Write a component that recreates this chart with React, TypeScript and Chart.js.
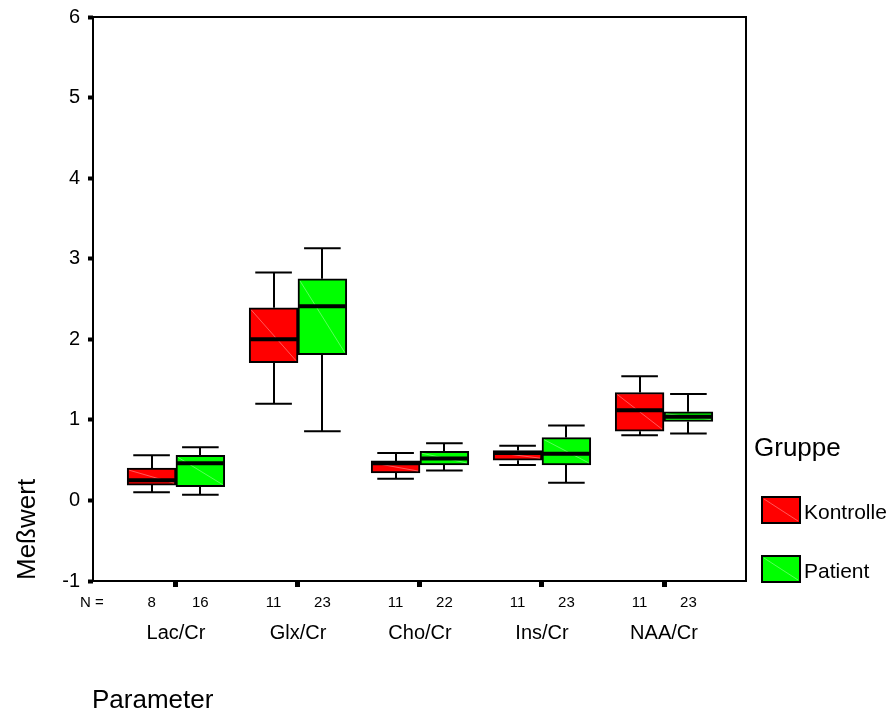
import React, { useEffect, useRef } from "react";
import { Chart, registerables } from "chart.js";

Chart.register(...registerables);

// ---- Data ----
const categories = ["Lac/Cr", "Glx/Cr", "Cho/Cr", "Ins/Cr", "NAA/Cr"];
const groupNames = ["Kontrolle", "Patient"];

const kontrolleMin = [0.10, 1.20, 0.27, 0.44, 0.81];
const kontrolleQ1 = [0.19, 1.71, 0.34, 0.50, 0.86];
const kontrolleMedian = [0.25, 2.00, 0.46, 0.59, 1.12];
const kontrolleQ3 = [0.40, 2.39, 0.49, 0.62, 1.34];
const kontrolleMax = [0.56, 2.83, 0.59, 0.68, 1.54];

const patientMin = [0.07, 0.86, 0.37, 0.22, 0.83];
const patientQ1 = [0.17, 1.81, 0.44, 0.44, 0.98];
const patientMedian = [0.46, 2.41, 0.52, 0.58, 1.04];
const patientQ3 = [0.56, 2.75, 0.61, 0.78, 1.10];
const patientMax = [0.66, 3.13, 0.71, 0.93, 1.32];

const nKontrolle = [8, 11, 11, 11, 11];
const nPatient = [16, 23, 22, 23, 23];

const yTicks = [-1, 0, 1, 2, 3, 4, 5, 6];

// ---- Styling / layout constants ----
const FONT = '"Liberation Sans", Arial, sans-serif';
const RED = "#ff0000";
const GREEN = "#00ff00";
const GROUP_OFFSET = 0.2; // box centre offset from category tick
const BOX_HALF = 0.2;
const CAP_HALF = 0.15;

const groups = [
  { name: groupNames[0], color: RED, off: -GROUP_OFFSET, min: kontrolleMin, q1: kontrolleQ1, med: kontrolleMedian, q3: kontrolleQ3, max: kontrolleMax, n: nKontrolle },
  { name: groupNames[1], color: GREEN, off: GROUP_OFFSET, min: patientMin, q1: patientQ1, med: patientMedian, q3: patientQ3, max: patientMax, n: nPatient },
];

const boxPlugin = {
  id: "boxExtras",
  beforeDatasetsDraw(chart: any) {
    const { ctx, scales } = chart;
    const x = scales.x, y = scales.y;
    ctx.save();
    ctx.strokeStyle = "#000";
    ctx.lineWidth = 2;
    groups.forEach((g) => {
      categories.forEach((_, i) => {
        const c = i + 1 + g.off;
        const xc = Math.round(x.getPixelForValue(c));
        const xl = x.getPixelForValue(c - CAP_HALF);
        const xr = x.getPixelForValue(c + CAP_HALF);
        const yMax = y.getPixelForValue(g.max[i]);
        const yMin = y.getPixelForValue(g.min[i]);
        const yQ1 = y.getPixelForValue(g.q1[i]);
        const yQ3 = y.getPixelForValue(g.q3[i]);
        ctx.beginPath();
        ctx.moveTo(xc, yQ3);
        ctx.lineTo(xc, yMax);
        ctx.moveTo(xl, yMax);
        ctx.lineTo(xr, yMax);
        ctx.moveTo(xc, yQ1);
        ctx.lineTo(xc, yMin);
        ctx.moveTo(xl, yMin);
        ctx.lineTo(xr, yMin);
        ctx.stroke();
      });
    });
    ctx.restore();
  },
  afterDatasetsDraw(chart: any) {
    const { ctx, scales } = chart;
    const x = scales.x, y = scales.y;
    ctx.save();
    groups.forEach((g) => {
      categories.forEach((_, i) => {
        const c = i + 1 + g.off;
        const xl = x.getPixelForValue(c - BOX_HALF);
        const xr = x.getPixelForValue(c + BOX_HALF);
        const yQ1 = y.getPixelForValue(g.q1[i]);
        const yQ3 = y.getPixelForValue(g.q3[i]);
        // faint diagonal
        ctx.strokeStyle = "rgba(255,255,255,0.35)";
        ctx.lineWidth = 1;
        ctx.beginPath();
        ctx.moveTo(xl + 2, yQ3 + 2);
        ctx.lineTo(xr - 2, yQ1 - 2);
        ctx.stroke();
        // median
        const yM = y.getPixelForValue(g.med[i]);
        ctx.strokeStyle = "#000";
        ctx.lineWidth = 4;
        ctx.beginPath();
        ctx.moveTo(xl + 1, yM);
        ctx.lineTo(xr - 1, yM);
        ctx.stroke();
      });
    });
    ctx.restore();
  },
  afterDraw(chart: any) {
    const { ctx, scales, chartArea } = chart;
    const x = scales.x;
    ctx.save();
    // frame
    ctx.strokeStyle = "#000";
    ctx.lineWidth = 2;
    ctx.strokeRect(chartArea.left, chartArea.top, chartArea.right - chartArea.left, chartArea.bottom - chartArea.top);

    ctx.fillStyle = "#000";
    // N counts
    ctx.font = `15px ${FONT}`;
    ctx.textAlign = "center";
    ctx.textBaseline = "alphabetic";
    ctx.fillText("N =", 92, 607);
    groups.forEach((g) => {
      categories.forEach((_, i) => {
        ctx.fillText(String(g.n[i]), x.getPixelForValue(i + 1 + g.off), 607);
      });
    });

    // axis titles
    ctx.textAlign = "left";
    ctx.font = `26px ${FONT}`;
    ctx.fillText("Parameter", 92, 708);
    ctx.save();
    ctx.translate(35, 580);
    ctx.rotate(-Math.PI / 2);
    ctx.fillText("Meßwert", 0, 0);
    ctx.restore();

    // legend
    ctx.fillText("Gruppe", 754, 456);
    const swatchTops = [497, 556];
    groups.forEach((g, k) => {
      const top = swatchTops[k];
      ctx.fillStyle = g.color;
      ctx.fillRect(762, top, 38, 26);
      ctx.strokeStyle = "rgba(255,255,255,0.35)";
      ctx.lineWidth = 1;
      ctx.beginPath();
      ctx.moveTo(764, top + 2);
      ctx.lineTo(798, top + 24);
      ctx.stroke();
      ctx.strokeStyle = "#000";
      ctx.lineWidth = 2;
      ctx.strokeRect(762, top, 38, 26);
      ctx.fillStyle = "#000";
      ctx.font = `21px ${FONT}`;
      ctx.fillText(g.name, 804, top + 22);
    });
    ctx.restore();
  },
};

export default function App() {
  const canvasRef = useRef<HTMLCanvasElement | null>(null);

  useEffect(() => {
    const canvas = canvasRef.current;
    if (!canvas) return;
    const datasets = groups.map((g) => ({
      label: g.name,
      data: categories.map((_, i) => ({ x: i + 1 + g.off, y: [g.q1[i], g.q3[i]] })),
      backgroundColor: g.color,
      borderColor: "#000",
      borderWidth: 2,
      borderSkipped: false,
      barPercentage: 1,
      categoryPercentage: 1,
      grouped: false,
    }));

    const chart = new Chart(canvas, {
      type: "bar",
      data: { datasets: datasets as any },
      plugins: [boxPlugin as any],
      options: {
        animation: false,
        responsive: false,
        devicePixelRatio: 1,
        layout: { padding: { top: 17, right: 147, left: 0, bottom: 0 } },
        plugins: { legend: { display: false }, tooltip: { enabled: false } },
        scales: {
          x: {
            type: "linear",
            min: 0.32,
            max: 5.672,
            offset: false,
            grid: { offset: false, drawOnChartArea: false, drawTicks: true, tickLength: 6, tickWidth: 5, color: "#000" },
            border: { display: false },
            afterBuildTicks: (scale: any) => {
              scale.ticks = categories.map((_, i) => ({ value: i + 1 }));
            },
            afterFit: (scale: any) => {
              scale.height = 712 - 581;
              scale.paddingLeft = 0;
              scale.paddingRight = 0;
            },
            ticks: {
              autoSkip: false,
              maxRotation: 0,
              minRotation: 0,
              padding: 34,
              color: "#000",
              font: { family: FONT, size: 20 },
              callback: (v: any) => categories[Math.round(Number(v)) - 1] ?? "",
            },
          },
          y: {
            type: "linear",
            min: -1,
            max: 6,
            grid: { drawOnChartArea: false, drawTicks: true, tickLength: 5, tickWidth: 4, color: "#000" },
            border: { display: false },
            afterBuildTicks: (scale: any) => {
              scale.ticks = yTicks.map((v) => ({ value: v }));
            },
            afterFit: (scale: any) => {
              scale.width = 93;
              scale.paddingTop = 0;
              scale.paddingBottom = 0;
            },
            ticks: {
              padding: 8,
              color: "#000",
              font: { family: FONT, size: 20 },
              callback: (v: any) => String(v),
            },
          },
        },
      } as any,
    });
    return () => chart.destroy();
  }, []);

  return (
    <div style={{ position: "absolute", left: 0, top: 0, width: 893, height: 712, background: "#fff" }}>
      <canvas ref={canvasRef} width={893} height={712} style={{ width: 893, height: 712, display: "block" }} />
    </div>
  );
}
